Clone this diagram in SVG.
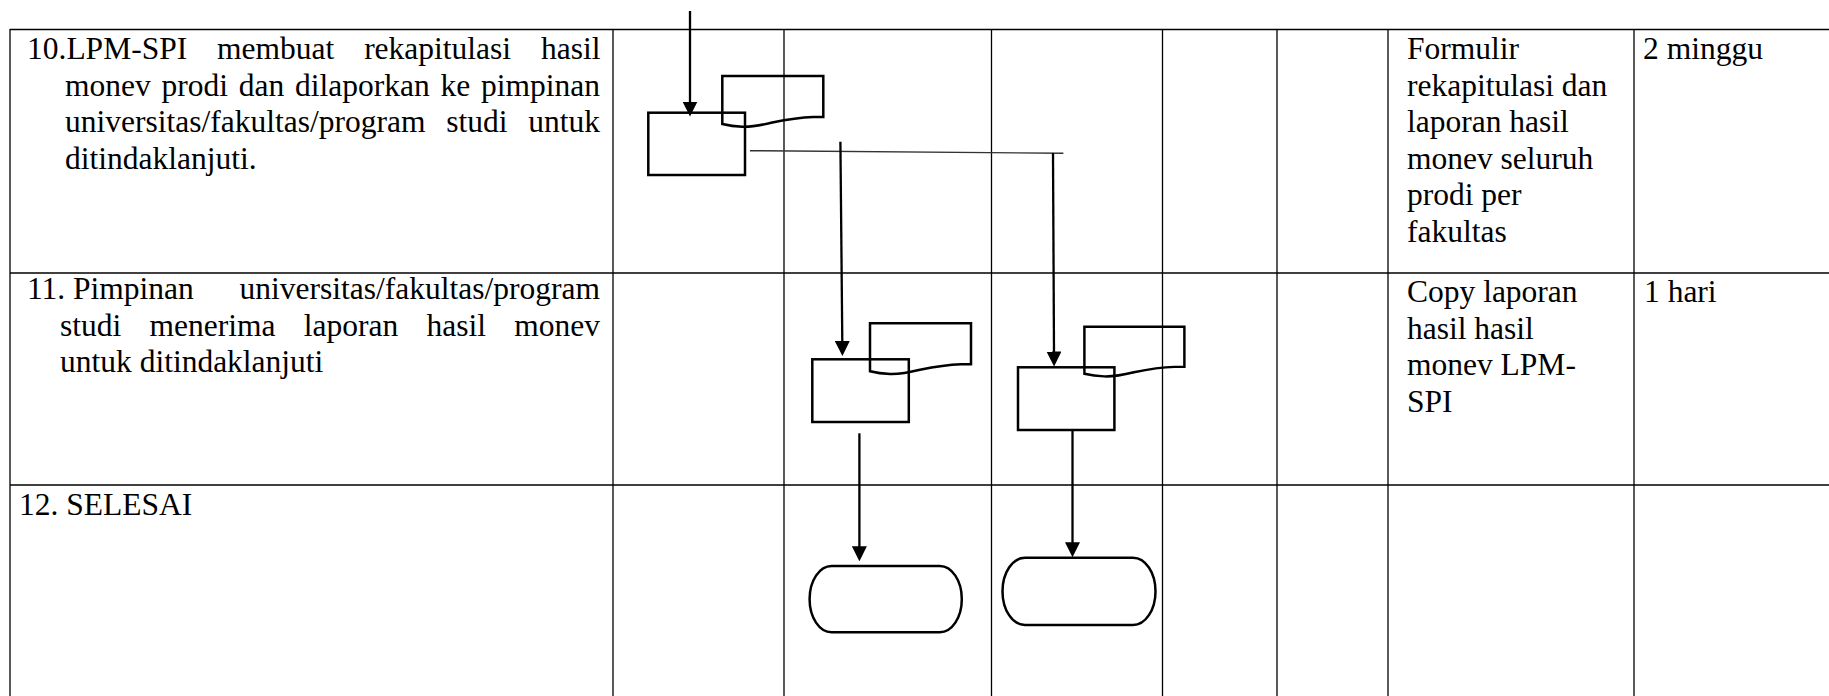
<svg xmlns="http://www.w3.org/2000/svg" width="1829" height="696" viewBox="0 0 1829 696">
<style>
  .grid { stroke: #000; stroke-width: 1.3; fill: none; }
  .shape { stroke: #000; stroke-width: 2.5; fill: none; }
  .flow { stroke: #000; stroke-width: 2.3; fill: none; }
  .thin { stroke: #333; stroke-width: 1.4; fill: none; }
  text { font-family: "Liberation Serif", "Times New Roman", serif; font-size: 31.5px; fill: #000; }
</style>
<defs>
  <marker id="ah" markerUnits="userSpaceOnUse" viewBox="0 0 15 15" markerWidth="15" markerHeight="15" refX="1" refY="7.5" orient="auto">
    <path d="M0,0 L15,7.5 L0,15 Z" fill="#000"/>
  </marker>
  <path id="docShape" d="M0,0 H101 V41 L91,41 C75,41.5 62,44 50,46.5 C38,49.5 30,51 20,50.7 C10,50.4 4,49 0,48 Z"/>
</defs>
<rect x="0" y="0" width="1829" height="696" fill="#fff"/>

<g id="table">
  <line class="grid" x1="10" y1="29.5" x2="1829" y2="29.5"/>
  <line class="grid" x1="10" y1="273" x2="1829" y2="273"/>
  <line class="grid" x1="10" y1="485" x2="1829" y2="485"/>
  <line class="grid" x1="10" y1="29" x2="10" y2="696"/>
  <line class="grid" x1="613" y1="29" x2="613" y2="696"/>
  <line class="grid" x1="784" y1="29" x2="784" y2="696"/>
  <line class="grid" x1="991.5" y1="29" x2="991.5" y2="696"/>
  <line class="grid" x1="1162.5" y1="29" x2="1162.5" y2="696"/>
  <line class="grid" x1="1277" y1="29" x2="1277" y2="696"/>
  <line class="grid" x1="1388" y1="29" x2="1388" y2="696"/>
  <line class="grid" x1="1634" y1="29" x2="1634" y2="696"/>
</g>

<g id="row10-text">
  <text x="27" y="59" style="word-spacing:22px">10.LPM-SPI membuat rekapitulasi hasil</text>
  <text x="65" y="95.6" style="word-spacing:2.9px">monev prodi dan dilaporkan ke pimpinan</text>
  <text x="65" y="132.2" style="word-spacing:12.9px">universitas/fakultas/program studi untuk</text>
  <text x="65" y="168.8">ditindaklanjuti.</text>
  <text x="1407" y="59">Formulir</text>
  <text x="1407" y="95.6">rekapitulasi dan</text>
  <text x="1407" y="132.2">laporan hasil</text>
  <text x="1407" y="168.8">monev seluruh</text>
  <text x="1407" y="205.4">prodi per</text>
  <text x="1407" y="242">fakultas</text>
  <text x="1643" y="59">2 minggu</text>
</g>

<g id="row11-text">
  <text x="27" y="299">11. Pimpinan</text>
  <text x="600" y="299" text-anchor="end">universitas/fakultas/program</text>
  <text x="60" y="335.6" style="word-spacing:20.4px">studi menerima laporan hasil monev</text>
  <text x="60" y="372.2">untuk ditindaklanjuti</text>
  <text x="1407" y="302">Copy laporan</text>
  <text x="1407" y="338.6">hasil hasil</text>
  <text x="1407" y="375.2">monev LPM-</text>
  <text x="1407" y="411.8">SPI</text>
  <text x="1644" y="302">1 hari</text>
</g>

<g id="row12-text">
  <text x="19" y="515">12. SELESAI</text>
</g>

<g id="proc1"><rect class="shape" x="648.3" y="112.7" width="96.7" height="62.3"/></g>
<g id="doc1"><use href="#docShape" class="shape" transform="translate(722.3,76)"/></g>
<g id="proc2"><rect class="shape" x="812.3" y="359.3" width="96.5" height="62.7"/></g>
<g id="doc2"><use href="#docShape" class="shape" transform="translate(870,323.3)"/></g>
<g id="proc3"><rect class="shape" x="1018" y="367.3" width="96.4" height="62.7"/></g>
<g id="doc3"><use href="#docShape" class="shape" transform="translate(1084.4,326.7) scale(0.99,0.98)"/></g>
<g id="end1"><rect class="shape" x="809.6" y="566" width="152.2" height="66.3" rx="22" ry="33"/></g>
<g id="end2"><rect class="shape" x="1002.5" y="557.7" width="153" height="67.3" rx="22.5" ry="33.6"/></g>

<g id="connectors">
  <line class="flow" x1="690" y1="11" x2="690" y2="102.5" marker-end="url(#ah)"/>
  <line class="thin" x1="750" y1="150.7" x2="1063.4" y2="153.3"/>
  <line class="flow" x1="840.4" y1="141.7" x2="842.3" y2="342" marker-end="url(#ah)"/>
  <line class="flow" x1="1053" y1="153" x2="1054" y2="352.5" marker-end="url(#ah)"/>
  <line class="flow" x1="859.4" y1="433.3" x2="859.4" y2="547.3" marker-end="url(#ah)"/>
  <line class="flow" x1="1072.5" y1="430" x2="1072.5" y2="543.3" marker-end="url(#ah)"/>
</g>
</svg>
